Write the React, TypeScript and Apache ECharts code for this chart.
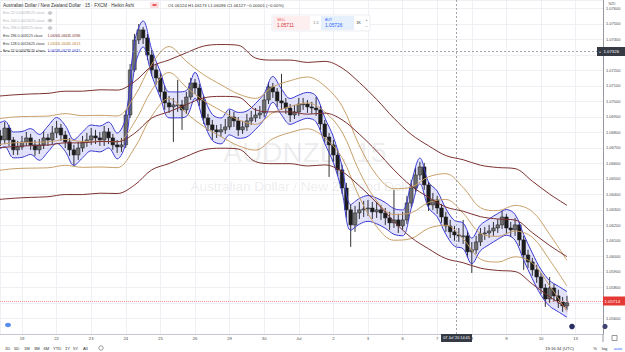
import React, { useEffect, useRef } from 'react';
import * as echarts from 'echarts';

// ---- axis labels ----
const dayLabels = ['19', '22', '23', '24', '25', '26', '29', '30', 'Jul', '2', '3', '6', '7', '8', '9', '10', '13'];

// ---- Heikin Ashi candles (3h sampling, x in trading days from 19 Jun) ----
const candleStartDay = -0.625;
const candleStepDay = 0.125;
const firstOpen = 1.06778;
const closes = [
  1.06752, 1.06829, 1.06752, 1.06688, 1.06707, 1.06739, 1.06765, 1.06720, 1.06688, 1.06720,
  1.06765, 1.06752, 1.06797, 1.06829, 1.06784, 1.06739, 1.06688, 1.06655, 1.06700, 1.06739,
  1.06752, 1.06778, 1.06765, 1.06752, 1.06804, 1.06765, 1.06720, 1.06707, 1.06720, 1.06913,
  1.07204, 1.07397, 1.07462, 1.07410, 1.07300, 1.07204, 1.07152, 1.07062, 1.06991, 1.06965,
  1.06978, 1.06978, 1.06946, 1.07029, 1.07120, 1.07087, 1.07010, 1.06894, 1.06849, 1.06817,
  1.06804, 1.06817, 1.06836, 1.06900, 1.06875, 1.06817, 1.06836, 1.06875, 1.06894, 1.06913,
  1.06926, 1.07010, 1.07094, 1.07062, 1.07004, 1.06991, 1.06958, 1.06913, 1.06933, 1.06984,
  1.06984, 1.06965, 1.06958, 1.06946, 1.06855, 1.06771, 1.06720, 1.06655, 1.06559, 1.06442,
  1.06301, 1.06204, 1.06281, 1.06301, 1.06307, 1.06313, 1.06288, 1.06301, 1.06281, 1.06249,
  1.06217, 1.06236, 1.06197, 1.06236, 1.06346, 1.06442, 1.06526, 1.06578, 1.06462, 1.06333,
  1.06365, 1.06313, 1.06255, 1.06197, 1.06159, 1.06139, 1.06133, 1.06133, 1.06030, 1.06043,
  1.06094, 1.06146, 1.06152, 1.06165, 1.06184, 1.06204, 1.06255, 1.06184, 1.06172, 1.06204,
  1.06107, 1.06010, 1.05965, 1.05914, 1.05868, 1.05797, 1.05726, 1.05797, 1.05746, 1.05707,
  1.05681, 1.05701,
];
const highs = [
  1.06817, 1.06868, 1.06849, 1.06771, 1.06746, 1.06778, 1.06804, 1.06791, 1.06752, 1.06758,
  1.06810, 1.06791, 1.06842, 1.06875, 1.06855, 1.06810, 1.06765, 1.06720, 1.06739, 1.06778,
  1.06797, 1.06829, 1.06817, 1.06804, 1.06842, 1.06829, 1.06791, 1.06752, 1.06765, 1.06946,
  1.07242, 1.07436, 1.07500, 1.07481, 1.07436, 1.07333, 1.07242, 1.07184, 1.07100, 1.07036,
  1.07023, 1.07139, 1.07010, 1.07062, 1.07152, 1.07145, 1.07113, 1.07036, 1.06920, 1.06881,
  1.06849, 1.06855, 1.06887, 1.06946, 1.06933, 1.06900, 1.06875, 1.06920, 1.06939, 1.06958,
  1.06971, 1.07049, 1.07126, 1.07120, 1.07087, 1.07178, 1.07023, 1.06984, 1.06978, 1.07023,
  1.07023, 1.07010, 1.06997, 1.07029, 1.06971, 1.06881, 1.06797, 1.06752, 1.06688, 1.06591,
  1.06475, 1.06333, 1.06326, 1.06352, 1.06359, 1.06365, 1.06352, 1.06352, 1.06333, 1.06313,
  1.06288, 1.06430, 1.06275, 1.06288, 1.06391, 1.06494, 1.06571, 1.06610, 1.06604, 1.06481,
  1.06410, 1.06391, 1.06339, 1.06288, 1.06236, 1.06197, 1.06184, 1.06236, 1.06159, 1.06094,
  1.06133, 1.06184, 1.06191, 1.06204, 1.06223, 1.06242, 1.06294, 1.06275, 1.06223, 1.06249,
  1.06223, 1.06133, 1.06043, 1.05991, 1.05946, 1.05894, 1.05823, 1.05868, 1.05823, 1.05785,
  1.05739, 1.05746,
];
const lows = [
  1.06713, 1.06726, 1.06713, 1.06655, 1.06655, 1.06688, 1.06713, 1.06688, 1.06649, 1.06662,
  1.06694, 1.06713, 1.06726, 1.06765, 1.06746, 1.06700, 1.06649, 1.06584, 1.06623, 1.06675,
  1.06707, 1.06720, 1.06726, 1.06713, 1.06713, 1.06726, 1.06688, 1.06668, 1.06675, 1.06700,
  1.06894, 1.07191, 1.07371, 1.07371, 1.07268, 1.07165, 1.07107, 1.07023, 1.06946, 1.06926,
  1.06739, 1.06933, 1.06817, 1.06920, 1.07010, 1.07049, 1.06971, 1.06855, 1.06810, 1.06752,
  1.06765, 1.06771, 1.06791, 1.06817, 1.06836, 1.06778, 1.06791, 1.06810, 1.06849, 1.06868,
  1.06887, 1.06900, 1.06984, 1.07023, 1.06965, 1.06946, 1.06920, 1.06868, 1.06887, 1.06907,
  1.06946, 1.06926, 1.06920, 1.06907, 1.06817, 1.06733, 1.06513, 1.06610, 1.06520, 1.06404,
  1.06249, 1.06062, 1.06159, 1.06242, 1.06255, 1.06262, 1.06242, 1.06249, 1.06236, 1.06204,
  1.06172, 1.06184, 1.06152, 1.06172, 1.06210, 1.06320, 1.06417, 1.06494, 1.06430, 1.06294,
  1.06301, 1.06275, 1.06217, 1.06159, 1.06120, 1.06101, 1.06094, 1.06081, 1.05991, 1.05894,
  1.06017, 1.06068, 1.06107, 1.06120, 1.06133, 1.06152, 1.06178, 1.06146, 1.06126, 1.06133,
  1.06068, 1.05914, 1.05926, 1.05875, 1.05830, 1.05759, 1.05675, 1.05701, 1.05707, 1.05668,
  1.05643, 1.05656,
];

// ---- Envelope basis lines ----
const envStartDay = -0.75;
const envStepDay = 0.5;
const env296Basis = [
  1.06700, 1.06709, 1.06715, 1.06719, 1.06733, 1.06733, 1.06742, 1.06740, 1.06794, 1.06893,
  1.06934, 1.06980, 1.07023, 1.07033, 1.07028, 1.06946, 1.06933, 1.06933, 1.06918, 1.06925,
  1.06882, 1.06789, 1.06680, 1.06559, 1.06455, 1.06382, 1.06319, 1.06292, 1.06257, 1.06242,
  1.06235, 1.06154, 1.06071, 1.05999,
];
const env128Basis = [
  1.06720, 1.06733, 1.06737, 1.06739, 1.06755, 1.06742, 1.06744, 1.06740, 1.06866, 1.07073,
  1.07187, 1.07092, 1.07006, 1.06941, 1.06882, 1.06853, 1.06927, 1.06967, 1.06991, 1.06933,
  1.06804, 1.06549, 1.06359, 1.06271, 1.06282, 1.06348, 1.06368, 1.06279, 1.06149, 1.06130,
  1.06164, 1.06124, 1.05977, 1.05810,
];
const env22StartDay = -0.75;
const env22StepDay = 0.25;
const env22Basis = [
  1.06765, 1.06791, 1.06720, 1.06723, 1.06742, 1.06704, 1.06758, 1.06813, 1.06762, 1.06671,
  1.06720, 1.06765, 1.06758, 1.06784, 1.06713, 1.06817, 1.07300, 1.07436, 1.07252, 1.07107,
  1.06978, 1.06978, 1.06987, 1.07104, 1.06952, 1.06833, 1.06810, 1.06868, 1.06846, 1.06855,
  1.06904, 1.06968, 1.07078, 1.06997, 1.06936, 1.06958, 1.06975, 1.06952, 1.06813, 1.06688,
  1.06500, 1.06252, 1.06291, 1.06310, 1.06294, 1.06265, 1.06226, 1.06217, 1.06394, 1.06552,
  1.06397, 1.06339, 1.06226, 1.06149, 1.06133, 1.06036, 1.06120, 1.06159, 1.06194, 1.06220,
  1.06188, 1.06059, 1.05939, 1.05833, 1.05762, 1.05726, 1.05691,
];
const env296Pct = 0.003125;
const env128Pct = 0.0015625;
const env22Pct = 0.00078125;

const lastPrice = 1.05714;
const crossDay = 12.55;
const crossPrice = 1.07326;

const FONT = "'Liberation Sans', Arial, sans-serif";
const MAROON = '#7c3030';
const TAN = '#c9a06a';
const BLUE = '#3b3bd0';

const pts = (arr: number[], start: number, step: number, f: number) =>
  arr.map((b, i) => [start + i * step, +(b * f).toFixed(6)]);

const candleData = closes.map((c, i) => [
  candleStartDay + i * candleStepDay,
  i === 0 ? firstOpen : closes[i - 1],
  c,
  lows[i],
  highs[i],
]);

const env22Upper = pts(env22Basis, env22StartDay, env22StepDay, 1 + env22Pct);
const env22Lower = pts(env22Basis, env22StartDay, env22StepDay, 1 - env22Pct);

const T = (x: number, y: number, text: string, fontSize: number, fill: string, align = 'left', z = 100) => ({
  type: 'text',
  x,
  y,
  z,
  silent: true,
  style: { text, fontSize, fontFamily: FONT, fill, textAlign: align, verticalAlign: 'middle', textVerticalAlign: 'middle' },
});

const eye = (cx: number, cy: number) => [
  { type: 'ellipse', z: 100, silent: true, shape: { cx, cy, rx: 1.9, ry: 1.2 }, style: { fill: 'none', stroke: '#8a8d96', lineWidth: 0.6 } },
  { type: 'circle', z: 100, silent: true, shape: { cx, cy, r: 0.6 }, style: { fill: '#8a8d96' } },
];

const renderCandle = (_params: any, api: any) => {
  const x = api.value(0);
  const o = api.value(1);
  const c = api.value(2);
  const l = api.value(3);
  const h = api.value(4);
  const pO = api.coord([x, o]);
  const pC = api.coord([x, c]);
  const pL = api.coord([x, l]);
  const pH = api.coord([x, h]);
  const w = 3.6;
  const top = Math.min(pO[1], pC[1]);
  const hgt = Math.max(Math.abs(pO[1] - pC[1]), 0.8);
  const up = c >= o;
  return {
    type: 'group',
    children: [
      { type: 'line', shape: { x1: pH[0], y1: pH[1], x2: pL[0], y2: pL[1] }, style: { stroke: '#1c1c1c', lineWidth: 0.9 } },
      {
        type: 'rect',
        shape: { x: pO[0] - w / 2, y: top, width: w, height: hgt },
        style: { fill: up ? '#6e6e6e' : '#1c1c1c', stroke: '#1c1c1c', lineWidth: 0.5 },
      },
    ],
  };
};

const renderBand = (params: any, api: any) => {
  if (params.dataIndex !== 0) return null;
  const up = env22Upper.map((p) => api.coord(p));
  const lo = env22Lower.map((p) => api.coord(p)).reverse();
  return {
    type: 'polygon',
    shape: { points: [...up, ...lo], smooth: 0.3 },
    style: { fill: 'rgba(110,110,235,0.2)', stroke: 'none' },
  };
};

const lineSeries = (name: string, data: any[], color: string, z = 4, extra: any = {}) => ({
  type: 'line',
  name,
  data,
  showSymbol: false,
  symbol: 'none',
  smooth: 0.35,
  silent: true,
  z,
  lineStyle: { color, width: 1 },
  ...extra,
});

const legendRows = [
  { y: 13, label: 'Env 22 0.00078125 close', faded: true },
  { y: 20.5, label: 'Env 100 0.0015625 close', faded: true },
  { y: 28, label: 'Env 296 0.003125 close', faded: true },
  { y: 36, label: 'Env 296 0.003125 close', faded: false, vals: ['1.0630', '1.0663', '1.0596'], color: MAROON },
  { y: 43.5, label: 'Env 128 0.0015625 close', faded: false, vals: ['1.0630', '1.0646', '1.0613'], color: '#c08436' },
  { y: 51, label: 'Env 22 0.00078125 close', faded: false, vals: ['1.0619', '1.0627', '1.0611'], color: BLUE },
];

const legendGraphics: any[] = [];
legendRows.forEach((r) => {
  legendGraphics.push(T(3, r.y, r.label, 3.7, r.faded ? '#b2b5be' : '#333'));
  if (r.faded) legendGraphics.push(...eye(50, r.y));
  if (r.vals) {
    r.vals.forEach((v, k) => legendGraphics.push(T(47.5 + k * 10.8, r.y, v, 3.7, r.color as string)));
  }
});

const toolbar = [
  ['1D', 5], ['5D', 14], ['1M', 24], ['3M', 34], ['6M', 43.5], ['YTD', 53], ['1Y', 65], ['5Y', 73], ['All', 83],
] as [string, number][];

const option: any = {
  animation: false,
  backgroundColor: '#ffffff',
  grid: { left: 0, right: 22, top: 0, bottom: 18, containLabel: false },
  xAxis: {
    type: 'value',
    min: -0.6358,
    max: 16.792,
    minInterval: 1,
    maxInterval: 1,
    axisLine: { show: true, onZero: false, lineStyle: { color: '#c5c8d0', width: 1 } },
    axisTick: { show: false },
    axisLabel: {
      show: true,
      fontSize: 4.2,
      color: '#4a4a4a',
      fontFamily: FONT,
      margin: 2.5,
      showMinLabel: false,
      showMaxLabel: false,
      formatter: (v: number) => (Math.abs(v - Math.round(v)) < 1e-6 ? dayLabels[Math.round(v)] ?? '' : ''),
    },
    splitLine: { show: true, lineStyle: { color: '#eef0f4', width: 1 } },
  },
  yAxis: {
    type: 'value',
    position: 'right',
    min: 1.055,
    max: 1.076548,
    interval: 0.001,
    axisLine: { show: true, onZero: false, lineStyle: { color: '#9598a1', width: 1 } },
    axisTick: { show: false },
    axisLabel: {
      show: true,
      fontSize: 4,
      color: '#4a4a4a',
      fontFamily: FONT,
      margin: 3,
      showMinLabel: false,
      showMaxLabel: false,
      // the label hidden behind the last-price tag is not drawn
      formatter: (v: number) => (Math.abs(v - lastPrice) < 0.0004 ? '' : v.toFixed(5)),
    },
    splitLine: { show: true, lineStyle: { color: '#eef0f4', width: 1 } },
  },
  series: [
    {
      type: 'custom',
      name: 'env22-fill',
      renderItem: renderBand,
      data: env22Upper,
      encode: { x: 0, y: 1 },
      clip: true,
      silent: true,
      z: 1,
    },
    {
      type: 'custom',
      name: 'AUDNZD',
      renderItem: renderCandle,
      data: candleData,
      encode: { x: 0, y: [1, 2, 3, 4] },
      dimensions: ['day', 'open', 'close', 'low', 'high'],
      clip: true,
      silent: true,
      z: 3,
    },
    lineSeries('env22-upper', env22Upper, BLUE),
    lineSeries('env22-lower', env22Lower, BLUE),
    lineSeries('env128-upper', pts(env128Basis, envStartDay, envStepDay, 1 + env128Pct), TAN),
    lineSeries('env128-basis', pts(env128Basis, envStartDay, envStepDay, 1), TAN),
    lineSeries('env128-lower', pts(env128Basis, envStartDay, envStepDay, 1 - env128Pct), TAN),
    lineSeries('env296-upper', pts(env296Basis, envStartDay, envStepDay, 1 + env296Pct), MAROON),
    lineSeries('env296-lower', pts(env296Basis, envStartDay, envStepDay, 1 - env296Pct), MAROON),
    lineSeries('env296-basis', pts(env296Basis, envStartDay, envStepDay, 1), MAROON, 4, {
      markLine: {
        silent: true,
        symbol: ['none', 'none'],
        precision: 6,
        label: { show: false },
        animation: false,
        data: [
          { yAxis: lastPrice, lineStyle: { color: '#ee9a9a', type: 'dotted', width: 1 } },
          { xAxis: crossDay, lineStyle: { color: '#8a8d96', type: [2, 2], width: 0.8 } },
          { yAxis: crossPrice, lineStyle: { color: '#8a8d96', type: [2, 2], width: 0.8 } },
        ],
      },
    }),
  ],
  graphic: {
    elements: [
      // watermark
      T(305, 152, 'AUDNZD, 15', 28, 'rgba(120,123,134,0.14)', 'center', 1),
      T(305, 186, 'Australian Dollar / New Zealand Dollar', 13.5, 'rgba(120,123,134,0.14)', 'center', 1),
      // header
      T(3, 5, 'Australian Dollar / New Zealand Dollar · 15 · FXCM · Heikin Ashi', 4.6, '#333'),
      { type: 'rect', z: 100, silent: true, shape: { x: 150, y: 2, width: 9, height: 6, r: 1 }, style: { fill: '#fbdfe2' } },
      { type: 'rect', z: 101, silent: true, shape: { x: 152.5, y: 4.2, width: 4, height: 1.6 }, style: { fill: '#e53935' } },
      T(168, 5, 'O1.06124 H1.06173 L1.06096 C1.06127 −0.00001 (−0.00%)', 4.3, '#333'),
      ...legendGraphics,
      // sell / buy widget
      { type: 'rect', z: 100, silent: true, shape: { x: 272, y: 15, width: 98, height: 16, r: 1 }, style: { fill: '#ffffff', stroke: '#e0e3eb', lineWidth: 0.6 } },
      { type: 'rect', z: 101, silent: true, shape: { x: 273, y: 16, width: 37, height: 14 }, style: { fill: '#fdeef0' } },
      T(277, 19.5, 'SELL', 3.5, '#ef5350', 'left', 102),
      T(277, 25.5, '1.05711', 4.8, '#d32f2f', 'left', 102),
      T(316, 23, '1.5', 3.8, '#787b86', 'center', 102),
      { type: 'rect', z: 101, silent: true, shape: { x: 321, y: 16, width: 33, height: 14 }, style: { fill: '#e6f0fd' } },
      T(325, 19.5, 'BUY', 3.5, '#2962ff', 'left', 102),
      T(325, 25.5, '1.05726', 4.8, '#2962ff', 'left', 102),
      T(358.5, 23, '1K', 3.8, '#333', 'center', 102),
      T(366.5, 19, '+', 4, '#555', 'center', 102),
      T(366.5, 26.5, '−', 4, '#555', 'center', 102),
      // right axis extras
      T(612, 4, 'NZD', 3.5, '#666', 'center'),
      { type: 'rect', z: 100, silent: true, shape: { x: 597, y: 47, width: 28, height: 9 }, style: { fill: '#363a45' } },
      T(600, 51.5, '+', 4.2, '#ffffff', 'center', 101),
      T(603.5, 51.5, crossPrice.toFixed(5), 4.3, '#ffffff', 'left', 101),
      { type: 'rect', z: 100, silent: true, shape: { x: 603, y: 296.5, width: 22, height: 9 }, style: { fill: '#e53935' } },
      T(604.5, 301, lastPrice.toFixed(5), 4.3, '#ffffff', 'left', 101),
      // x crosshair tag
      { type: 'rect', z: 100, silent: true, shape: { x: 441, y: 334, width: 31, height: 8 }, style: { fill: '#363a45' } },
      T(456.5, 338, "07 Jul '20 14:45", 3.8, '#ffffff', 'center', 101),
      // bottom icons
      { type: 'ellipse', z: 100, silent: true, shape: { cx: 8, cy: 325, rx: 3, ry: 2.2 }, style: { fill: '#5b8def' } },
      { type: 'circle', z: 100, silent: true, shape: { cx: 572, cy: 326.5, r: 2.8 }, style: { fill: '#2a2f63' } },
      { type: 'circle', z: 100, silent: true, shape: { cx: 605, cy: 326.5, r: 2.6 }, style: { fill: '#3d4270' } },
      { type: 'line', z: 100, silent: true, shape: { x1: 603, y1: 334, x2: 603, y2: 342 }, style: { stroke: '#9598a1', lineWidth: 1 } },
      { type: 'rect', z: 100, silent: true, shape: { x: 612, y: 335.5, width: 5, height: 5 }, style: { fill: 'none', stroke: '#555', lineWidth: 0.6 } },
      // toolbar
      ...toolbar.map(([t, x]) => T(x, 348, t, 4.2, '#333')),
      { type: 'circle', z: 100, silent: true, shape: { cx: 101, cy: 348, r: 2.2 }, style: { fill: 'none', stroke: '#555', lineWidth: 0.6 } },
      T(574, 348, '19:16:34 (UTC)', 4.2, '#333', 'right'),
      T(595, 348, '%', 4.2, '#333', 'center'),
      T(604.5, 348, 'log', 4.2, '#333', 'center'),
      T(618, 348, 'auto', 4.2, '#2962ff', 'center'),
    ],
  },
};

export default function App() {
  const ref = useRef<HTMLDivElement>(null);
  useEffect(() => {
    if (!ref.current) return;
    const chart = echarts.init(ref.current, null, { renderer: 'svg' });
    chart.setOption(option);
    return () => chart.dispose();
  }, []);
  return <div ref={ref} style={{ position: 'absolute', left: 0, top: 0, width: 625, height: 352, background: '#fff' }} />;
}
